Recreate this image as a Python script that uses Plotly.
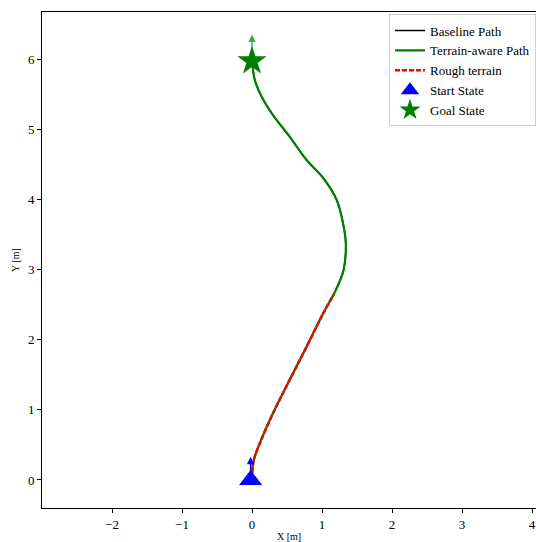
import plotly.graph_objects as go

# Path data
path_x = [0.0, 0.02, 0.09, 0.30, 0.54, 0.78, 1.02, 1.17, 1.26, 1.31, 1.34, 1.30, 1.21, 1.02, 0.78, 0.54, 0.30, 0.14, 0.04, 0.0]
path_y = [0.0, 0.26, 0.47, 0.95, 1.43, 1.90, 2.38, 2.65, 2.85, 3.00, 3.37, 3.66, 3.99, 4.30, 4.56, 4.89, 5.20, 5.46, 5.70, 6.0]
rough_x = [0.0, 0.02, 0.09, 0.30, 0.54, 0.78, 1.02, 1.17]
rough_y = [0.0, 0.26, 0.47, 0.95, 1.43, 1.90, 2.38, 2.65]
start_xy = [-0.02, 0.0]
start_heading = [-0.02, 0.33]
goal_xy = [0.0, 5.97]
goal_heading = [0.0, 6.35]

serif = "Liberation Serif"
fig = go.Figure()
fig.add_trace(go.Scatter(x=path_x, y=path_y, mode="lines", line=dict(color="black", width=1.5, shape="spline", smoothing=1.0), name="Baseline Path"))
fig.add_trace(go.Scatter(x=path_x, y=path_y, mode="lines", line=dict(color="green", width=2.2, shape="spline", smoothing=1.0), name="Terrain-aware Path"))
fig.add_trace(go.Scatter(x=rough_x, y=rough_y, mode="lines", line=dict(color="red", width=2.6, dash="5px,2px", shape="spline", smoothing=1.0), name="Rough terrain"))
fig.add_annotation(x=start_heading[0], y=start_heading[1], ax=start_xy[0], ay=start_xy[1], xref="x", yref="y", axref="x", ayref="y",
                   showarrow=True, arrowhead=2, arrowsize=1, arrowwidth=1.5, arrowcolor="blue", text="")
fig.add_annotation(x=goal_heading[0], y=goal_heading[1], ax=goal_xy[0], ay=goal_xy[1], xref="x", yref="y", axref="x", ayref="y",
                   showarrow=True, arrowhead=2, arrowsize=1, arrowwidth=1.5, arrowcolor="rgba(0,128,0,0.7)", text="")
fig.add_trace(go.Scatter(x=[start_xy[0]], y=[start_xy[1]], mode="markers", marker=dict(symbol="triangle-up", size=20, color="blue"), name="Start State"))
fig.add_trace(go.Scatter(x=[goal_xy[0]], y=[goal_xy[1]], mode="markers", marker=dict(symbol="star", size=22, color="green"), name="Goal State"))

fig.update_layout(
    width=536, height=542,
    margin=dict(l=42, r=0, t=12, b=34),
    plot_bgcolor="white", paper_bgcolor="white",
    font=dict(family=serif, size=13, color="black"),
    showlegend=True,
    legend=dict(x=1.0, y=0.995, xanchor="right", yanchor="top", bgcolor="rgba(255,255,255,0.8)",
                bordercolor="#cccccc", borderwidth=1, font=dict(family=serif, size=13),
                itemwidth=30, tracegroupgap=0),
)
fig.update_xaxes(range=[-3.0, 4.057], showgrid=False, zeroline=False, showline=True, linecolor="black", linewidth=1,
                 mirror=True, ticks="outside", ticklen=4, tickcolor="black", tickvals=[-2, -1, 0, 1, 2, 3, 4],
                 automargin=False,
                 title=dict(text="X [m]", font=dict(size=10, family=serif), standoff=6))
fig.update_yaxes(range=[-0.40, 6.67], showgrid=False, zeroline=False, showline=True, linecolor="black", linewidth=1,
                 mirror=False, ticks="outside", ticklen=4, tickcolor="black", tickvals=[0, 1, 2, 3, 4, 5, 6],
                 automargin=False,
                 title=dict(text="Y [m]", font=dict(size=10, family=serif), standoff=6))
fig.write_html("out.html")
